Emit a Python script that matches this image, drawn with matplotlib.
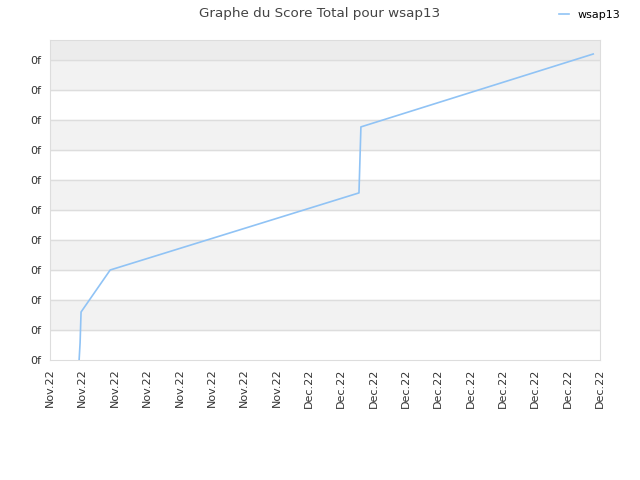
import matplotlib
matplotlib.use("Agg")
import matplotlib.pyplot as plt

x_vals = [0.90, 0.93, 0.96, 1.86, 9.55, 9.58, 9.61, 16.79]
y_vals = [0.0, 0.57, 1.6, 3.0, 5.57, 6.67, 7.77, 10.2]
x_labels = ["Nov.22"] * 8 + ["Dec.22"] * 10
y_labels = ["0f"] * 11

fig = plt.figure(figsize=(6.4, 4.8), dpi=100)
ax = fig.add_axes([50 / 640, 120 / 480, 550 / 640, 320 / 480])

ymax = 320 / 30
ax.set_xlim(0, 17)
ax.set_ylim(0, ymax)

# bandes alternées
for i in range(10):
    if i % 2 == 0:
        continue
    ax.axhspan(i, i + 1, color="#f2f2f2", zorder=0)
ax.axhspan(10, ymax, color="#ececec", zorder=0)
for i in range(1, 11):
    ax.axhline(i, color="#dddddd", lw=1, zorder=1)

ax.plot(x_vals, y_vals, color="#90c3f5", lw=1.2, label="wsap13", zorder=3)

ax.set_xticks(range(len(x_labels)))
ax.set_xticklabels(x_labels, rotation=90, fontsize=8, color="#333333")
ax.set_yticks(range(len(y_labels)))
ax.set_yticklabels(y_labels, fontsize=8, color="#333333")
ax.tick_params(length=0, pad=6)

for s in ax.spines.values():
    s.set_color("#dddddd")

fig.suptitle("Graphe du Score Total pour wsap13", fontsize=9.7, color="#444444", y=0.985)
fig.legend(loc="upper right", bbox_to_anchor=(0.985, 1.0), frameon=False, fontsize=8,
           handlelength=0.9, handletextpad=0.8)

fig.savefig("out.png")
